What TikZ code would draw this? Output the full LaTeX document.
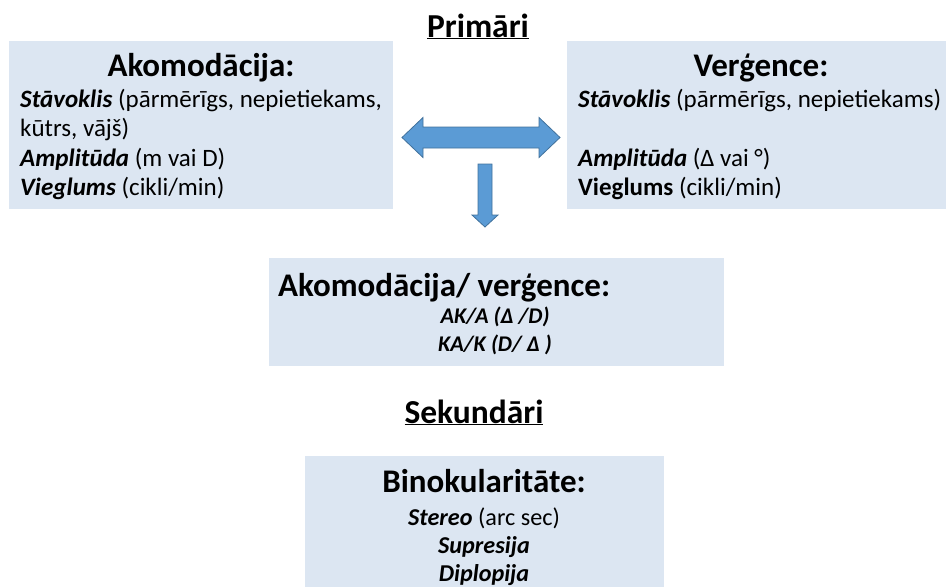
\documentclass[tikz,border=0pt]{standalone}
\usepackage{fontspec}
\setmainfont{Carlito}
\usetikzlibrary{positioning,calc}
\definecolor{BoxBlue}{RGB}{220,230,242}
\definecolor{ArrowFill}{RGB}{91,155,213}
\definecolor{ArrowLine}{RGB}{65,113,156}

\begin{document}
\begin{tikzpicture}[x=1pt,y=-1pt,
  panel/.style={fill=BoxBlue,draw=none,inner sep=0pt,anchor=north west},
  heading/.style={font=\fontsize{33}{38}\selectfont\bfseries,inner sep=0pt,anchor=base},
  title/.style={font=\fontsize{33.5}{38}\selectfont\bfseries,inner sep=0pt,anchor=base},
  body/.style={font=\fontsize{25}{29.3}\selectfont,inner sep=0pt,align=left,anchor=north west},
  small/.style={font=\fontsize{24.2}{28}\selectfont,inner sep=0pt,align=center,anchor=north},
  blockarrow/.style={fill=ArrowFill,draw=ArrowLine,line width=0.8pt,line join=miter},
]
\useasboundingbox (0,0) rectangle (946,587);

% titles
\node[title] (prim) at (478,37) {\underline{Primāri}};
\node[title] (sek) at (474,423) {\underline{Sekundāri}};

% boxes
\node[panel,minimum width=384pt,minimum height=168pt] (akom) at (9,41) {};
\node[panel,minimum width=379pt,minimum height=168pt] (verg) at (567,41) {};
\node[panel,minimum width=455pt,minimum height=108pt] (akverg) at (269,258) {};
\node[panel,minimum width=359pt,minimum height=131pt] (bino) at (305,456) {};

% left box
\node[heading] (akomH) at (201,76) {Akomodācija:};
\node[body] (akomT) at (20,89) {\textbf{\textit{Stāvoklis}} (pārmērīgs, nepietiekams,\\
  kūtrs, vājš)\\
  \textbf{\textit{Amplitūda}} (m vai D)\\
  \textbf{\textit{Vieglums}} (cikli/min)};

% right box
\node[heading] (vergH) at (761,76) {Verģence:};
\node[body] (vergT) at (578,89) {\textbf{\textit{Stāvoklis}} (pārmērīgs, nepietiekams)\\[29.3pt]
  \textbf{\textit{Amplitūda}} (Δ vai °)\\
  \textbf{Vieglums} (cikli/min)};

% middle box
\node[heading,anchor=base west] (akvergH) at (278,296) {Akomodācija/ verģence:};
\node[small,font=\fontsize{22.4}{28}\selectfont\bfseries\itshape] (akvergT) at (495,307)
  {AK/A (Δ /D)\\KA/K (D/ Δ )};

% bottom box
\node[heading] (binoH) at (484,492) {Binokularitāte:};
\node[small] (binoT) at (484,508) {\textbf{\textit{Stereo}} (arc sec)\\
  \textbf{\textit{Supresija}}\\
  \textbf{\textit{Diplopija}}};

% arrows
\coordinate (dbl) at (481,137.5);
\draw[blockarrow] ($(dbl)+(-79,0)$) -- ++(21,-20) -- ++(0,9.5) -- ++(116,0) -- ++(0,-9.5)
  -- ++(21,20) -- ++(-21,20) -- ++(0,-9.5) -- ++(-116,0) -- ++(0,9.5) -- cycle;
\coordinate (dwn) at (485,164);
\draw[blockarrow] ($(dwn)+(-7,0)$) -- ++(14,0) -- ++(0,51) -- ++(6,0) -- ++(-13,12)
  -- ++(-13,-12) -- ++(6,0) -- cycle;
\end{tikzpicture}
\end{document}
